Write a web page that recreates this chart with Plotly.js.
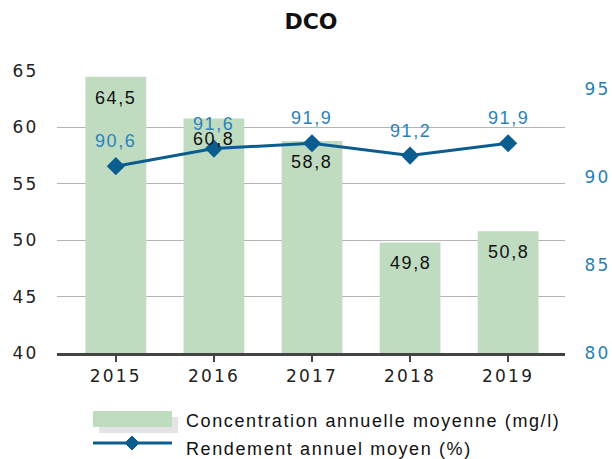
<!DOCTYPE html>
<html>
<head>
<meta charset="utf-8">
<script src="https://cdn.plot.ly/plotly-3.0.1.min.js"></script>
<style>
html,body{margin:0;padding:0;background:#fff;}
#chart{width:612px;height:459px;}
.xtick text, .ytick text, .y2tick text { letter-spacing: 2.2px; }
.annotation-text { letter-spacing: 1.6px; }
</style>
</head>
<body>
<div id="chart"></div>
<script>
const years = ['2015', '2016', '2017', '2018', '2019'];
const concentration = [64.5, 60.8, 58.8, 49.8, 50.8];
const rendement = [90.6, 91.6, 91.9, 91.2, 91.9];
const seriesNames = ['Concentration annuelle moyenne (mg/l)', 'Rendement annuel moyen (%)'];
const leftTicks = [40, 45, 50, 55, 60, 65];
const rightTicks = [80, 85, 90, 95];
const chartTitle = 'DCO';

const fmt = v => v.toFixed(1).replace('.', ',');

const L = 57, R = 565, T = 71, B = 353;
const W = R - L, H = B - T;
const px = x => (x - L) / W;
const py = y => (B - y) / H;

const barColor = '#c0dcc0';
const lineColor = '#0b5d90';
const labelBlue = '#2a82bb';

const traces = [
  {
    type: 'bar', x: years, y: concentration, name: seriesNames[0],
    marker: {color: barColor}, width: 0.62, hoverinfo: 'skip', showlegend: false
  },
  {
    type: 'scatter', mode: 'lines+markers', x: years, y: rendement, yaxis: 'y2',
    name: seriesNames[1], line: {color: lineColor, width: 3},
    marker: {symbol: 'diamond', size: 14, color: lineColor}, hoverinfo: 'skip', showlegend: false
  }
];

const annotations = [];
years.forEach((yr, i) => {
  annotations.push({x: i, y: concentration[i], xref: 'x', yref: 'y', text: fmt(concentration[i]),
    showarrow: false, yshift: -21, font: {family: 'Liberation Sans, Arial', size: 18, color: '#111'}});
});
years.forEach((yr, i) => {
  annotations.push({x: i, y: rendement[i], xref: 'x', yref: 'y2', text: fmt(rendement[i]),
    showarrow: false, yshift: 25, font: {family: 'Liberation Sans, Arial', size: 18, color: labelBlue}});
});
// custom legend texts
annotations.push({x: px(184), y: py(421), xref: 'paper', yref: 'paper', xanchor: 'left', yanchor: 'middle',
  text: seriesNames[0], showarrow: false, font: {family: 'Liberation Sans, Arial', size: 18, color: '#111'}});
annotations.push({x: px(184), y: py(449), xref: 'paper', yref: 'paper', xanchor: 'left', yanchor: 'middle',
  text: seriesNames[1], showarrow: false, font: {family: 'Liberation Sans, Arial', size: 18, color: '#111'}});

const dx = 7, dy = 7, cx = 132, cy = 443;
const shapes = [
  {type: 'rect', xref: 'paper', yref: 'paper', x0: px(99), x1: px(178), y0: py(417), y1: py(433),
    fillcolor: '#e4e4e4', line: {width: 0}, layer: 'above'},
  {type: 'rect', xref: 'paper', yref: 'paper', x0: px(93), x1: px(172), y0: py(411), y1: py(427),
    fillcolor: barColor, line: {width: 0}, layer: 'above'},
  {type: 'line', xref: 'paper', yref: 'paper', x0: px(93), x1: px(172), y0: py(cy), y1: py(cy),
    line: {color: lineColor, width: 3}, layer: 'above'},
  {type: 'path', xref: 'paper', yref: 'paper', layer: 'above', fillcolor: lineColor, line: {color: lineColor, width: 1},
    path: `M${px(cx)},${py(cy - dy)} L${px(cx + dx)},${py(cy)} L${px(cx)},${py(cy + dy)} L${px(cx - dx)},${py(cy)} Z`}
];

const layout = {
  width: 612, height: 459,
  margin: {l: L, r: 612 - R, t: T, b: 459 - B, pad: 0},
  paper_bgcolor: '#fff', plot_bgcolor: '#fff',
  showlegend: false,
  title: {text: '<b>' + chartTitle + '</b>', x: 0.5, xref: 'paper', y: 0.953, yanchor: 'middle',
    font: {family: 'DejaVu Sans', size: 22, color: '#111'}},
  font: {family: 'DejaVu Sans', color: '#222'},
  xaxis: {type: 'category', range: [-0.6, 4.58], showgrid: false, zeroline: false,
    showline: true, linecolor: '#444', linewidth: 3,
    ticks: 'outside', ticklen: 6, tickwidth: 2, tickcolor: '#444',
    tickfont: {family: 'DejaVu Sans', size: 17, color: '#222'}},
  yaxis: {range: [40, 65], tickvals: leftTicks, showgrid: true, gridcolor: '#b4b4b4', gridwidth: 1,
    zeroline: false, showline: false, ticks: 'outside', ticklen: 14, tickcolor: 'rgba(0,0,0,0)',
    tickfont: {family: 'DejaVu Sans', size: 17, color: '#222'}},
  yaxis2: {range: [80, 96], tickvals: rightTicks, overlaying: 'y', side: 'right', showgrid: false,
    zeroline: false, showline: false, ticks: 'outside', ticklen: 15, tickcolor: 'rgba(0,0,0,0)',
    tickfont: {family: 'DejaVu Sans', size: 17, color: '#2a7fb5'}},
  annotations: annotations,
  shapes: shapes,
  bargap: 0.38
};

Plotly.newPlot('chart', traces, layout, {staticPlot: true, displayModeBar: false});
</script>
</body>
</html>
